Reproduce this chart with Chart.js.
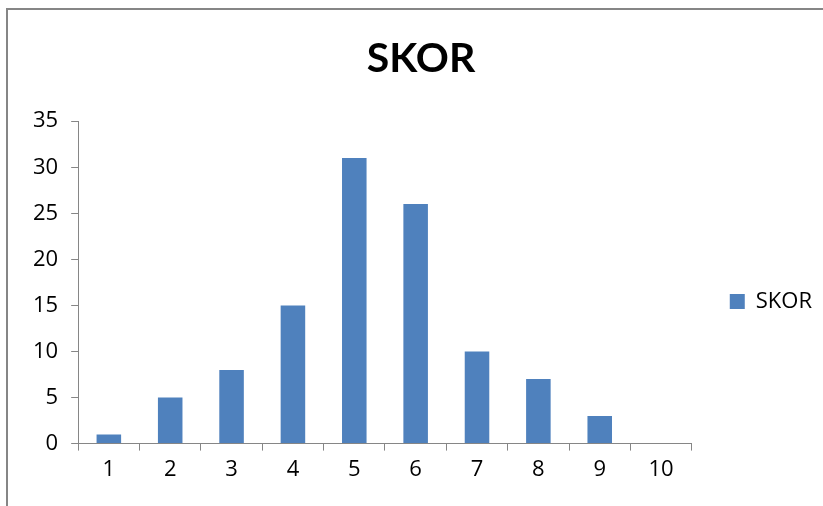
<!DOCTYPE html>
<html>
<head>
<meta charset="utf-8">
<script src="https://cdn.jsdelivr.net/npm/chart.js@4"></script>
<style>
  html, body { margin: 0; padding: 0; background: #fff; }
  #wrap { position: relative; width: 823px; height: 506px; overflow: hidden; }
  #frame { position: absolute; left: 6px; top: 8px; width: 900px; height: 600px;
           border-left: 2px solid #868686; border-top: 2px solid #868686; }
  canvas { position: absolute; left: 0; top: 0; }
</style>
</head>
<body>
<div id="wrap">
  <div id="frame"></div>
  <canvas id="chart" width="823" height="506"></canvas>
</div>
<script>
const categories = ["1", "2", "3", "4", "5", "6", "7", "8", "9", "10"];
const skor = [1, 5, 8, 15, 31, 26, 10, 7, 3, 0];
const seriesName = "SKOR";

const axisColor = "#868686";
const titleFont = "Lato, 'Open Sans', sans-serif";
const font = "'Open Sans', Lato, sans-serif";

const ctx = document.getElementById("chart").getContext("2d");
new Chart(ctx, {
    type: "bar",
    data: {
        labels: categories,
        datasets: [{
            label: seriesName,
            data: skor,
            backgroundColor: "#4F81BD",
            categoryPercentage: 1,
            barPercentage: 0.4
        }]
    },
    options: {
        responsive: false,
        animation: false,
        layout: { padding: { top: 34, right: 1, left: 20, bottom: 17 } },
        plugins: {
            title: {
                display: true,
                text: "SKOR",
                color: "#000",
                font: { family: titleFont, size: 41, weight: "bold" },
                padding: { top: 0, bottom: 38 }
            },
            legend: {
                position: "right",
                fullSize: false,
                // blank legend title pushes the entry down to where it sits in the original
                title: { display: true, text: " ", padding: 6, font: { size: 22 } },
                labels: {
                    color: "#000",
                    boxWidth: 15,
                    boxHeight: 15,
                    padding: 38,
                    font: { family: font, size: 22 }
                }
            },
            tooltip: { enabled: false }
        },
        scales: {
            x: {
                offset: true,
                grid: { offset: true, drawOnChartArea: false, tickLength: 7, color: axisColor },
                border: { color: axisColor, width: 1 },
                ticks: { color: "#000", font: { family: font, size: 22 }, padding: 6 }
            },
            y: {
                min: 0,
                max: 35,
                ticks: { stepSize: 5, color: "#000", font: { family: font, size: 22 }, padding: 13 },
                grid: { drawOnChartArea: false, tickLength: 7, color: axisColor },
                border: { color: axisColor, width: 1 }
            }
        }
    }
});
</script>
</body>
</html>
